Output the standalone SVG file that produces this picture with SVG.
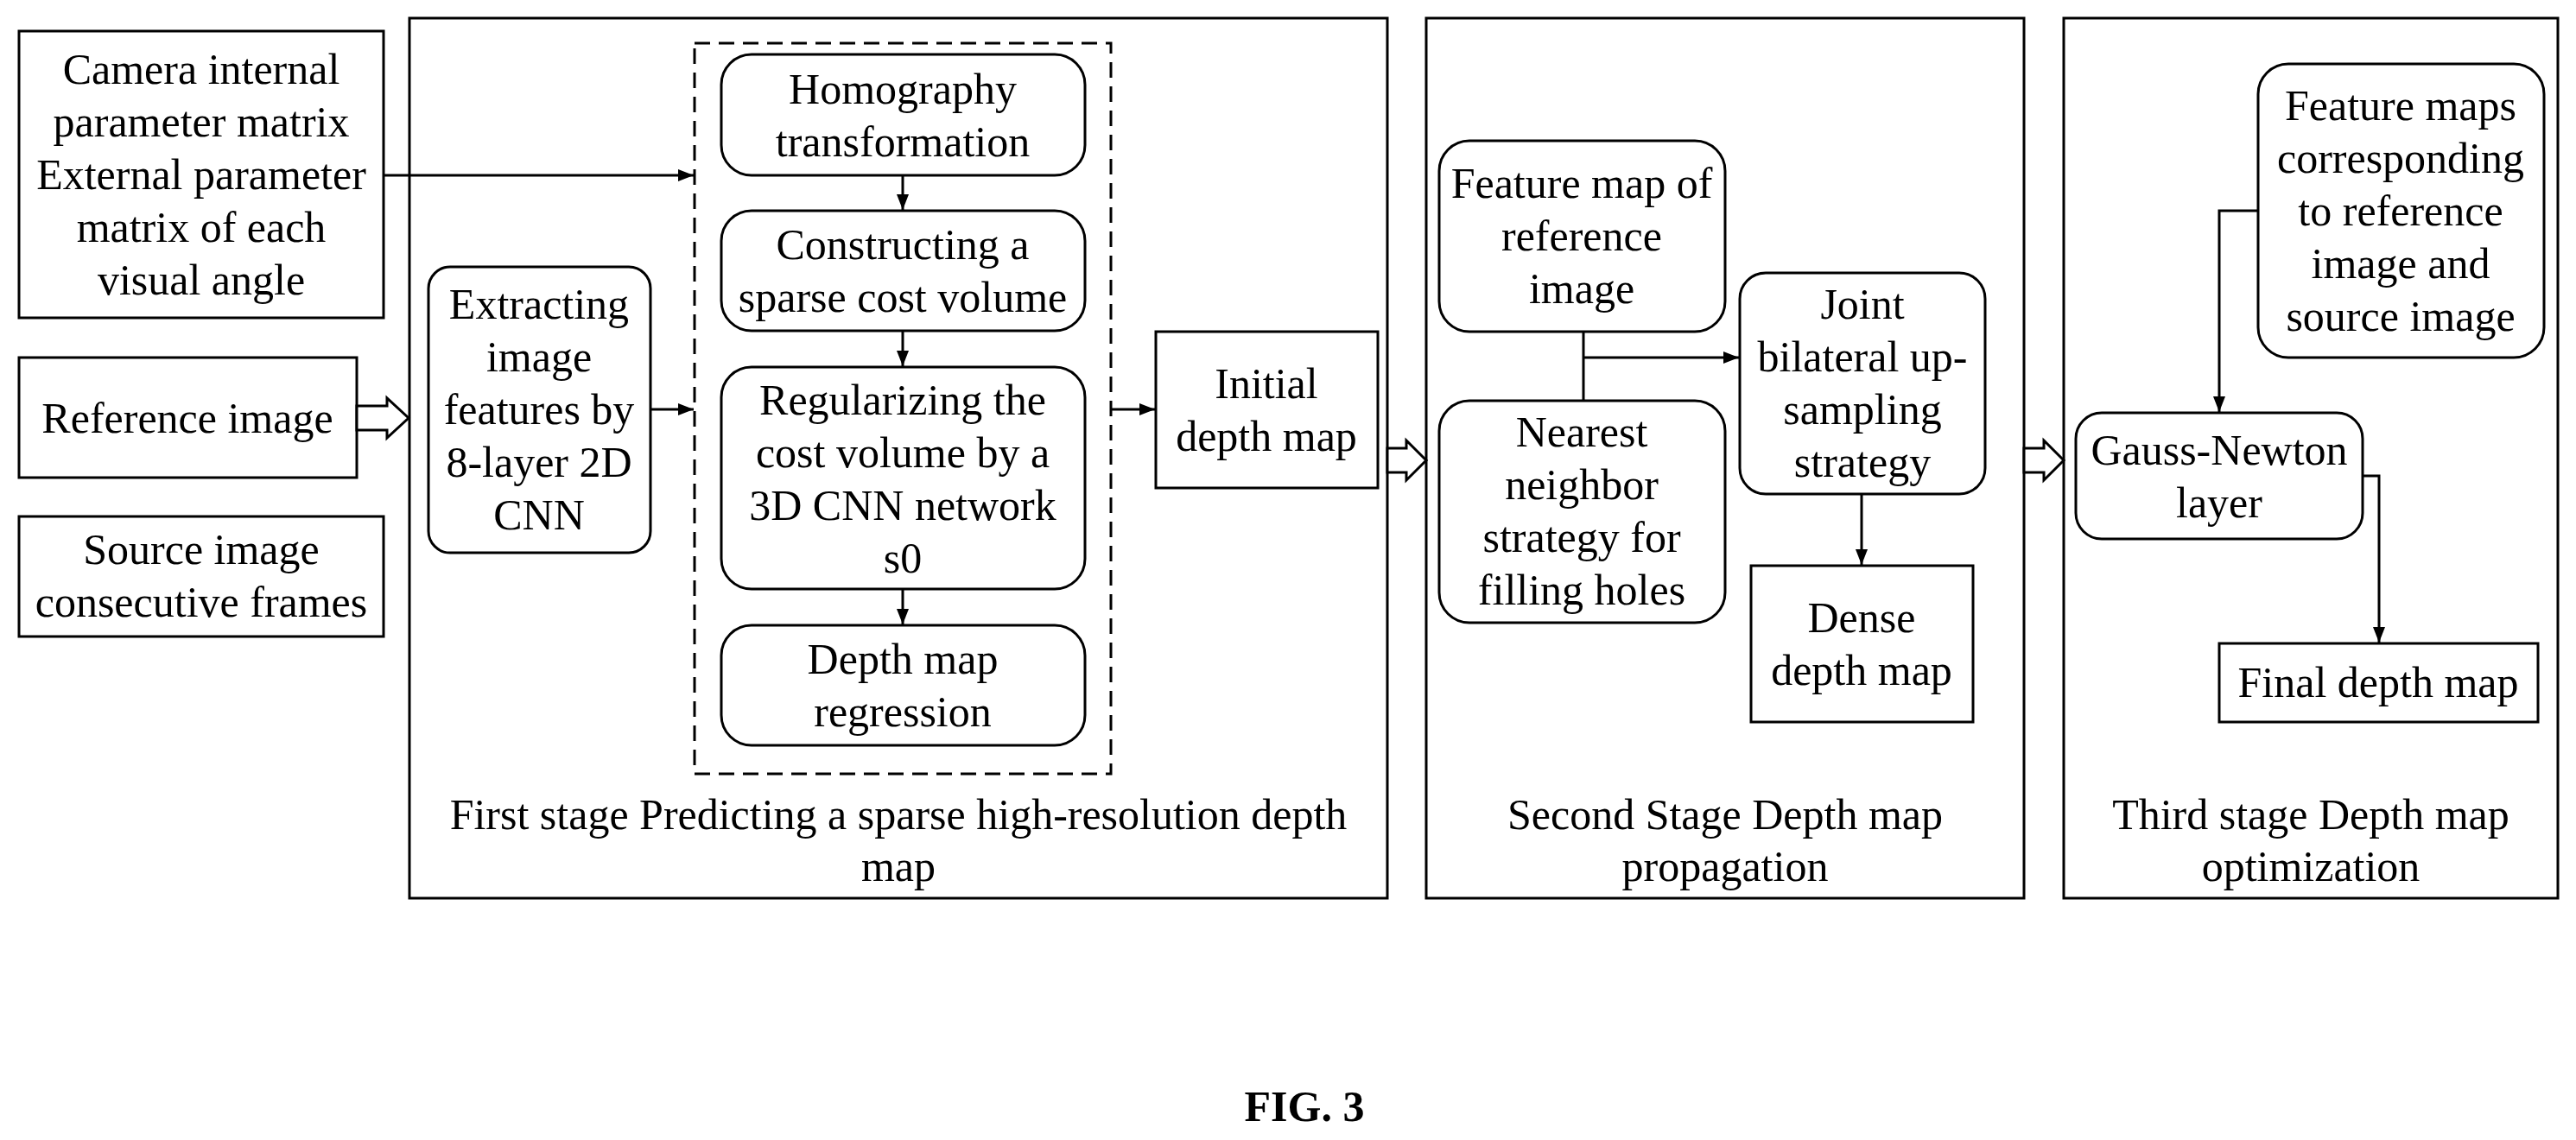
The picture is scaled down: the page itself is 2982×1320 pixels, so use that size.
<svg xmlns="http://www.w3.org/2000/svg" width="2982" height="1320" viewBox="0 0 2982 1320">
<style>
rect{fill:#fff;stroke:#000;stroke-width:3}
.dash{fill:none;stroke-dasharray:18,10}
text{font-family:"Liberation Serif","Times New Roman",serif;font-size:50px;text-anchor:middle;fill:#000}
.c line,.c polyline{stroke:#000;stroke-width:3;fill:none}
.h{fill:#fff;stroke:#000;stroke-width:3}
</style>
<defs><marker id="a" markerWidth="18" markerHeight="14" refX="18" refY="7" orient="auto" markerUnits="userSpaceOnUse" viewBox="0 0 18 14"><path d="M0,0L18,7L0,14z" fill="#000"/></marker></defs>
<rect width="2982" height="1320" style="stroke:none"/>
<g id="stage1"><rect x="474" y="21" width="1132" height="1019"/><text x="1040"><tspan x="1040" y="960">First stage Predicting a sparse high-resolution depth</tspan><tspan x="1040" y="1020">map</tspan></text></g>
<g id="stage2"><rect x="1651" y="21" width="692" height="1019"/><text><tspan x="1997" y="960">Second Stage Depth map</tspan><tspan x="1997" y="1020">propagation</tspan></text></g>
<g id="stage3"><rect x="2389" y="21" width="572" height="1019"/><text><tspan x="2675" y="960">Third stage Depth map</tspan><tspan x="2675" y="1020">optimization</tspan></text></g>
<g id="dashed"><rect class="dash" x="804" y="50" width="482" height="846"/></g>
<g id="camera"><rect x="22" y="36" width="422" height="332"/><text><tspan x="233" y="97">Camera internal</tspan><tspan x="233" y="158">parameter matrix</tspan><tspan x="233" y="219">External parameter</tspan><tspan x="233" y="280">matrix of each</tspan><tspan x="233" y="341">visual angle</tspan></text></g>
<g id="refimg"><rect x="22" y="414" width="391" height="139"/><text x="217" y="501">Reference image</text></g>
<g id="source"><rect x="22" y="598" width="422" height="139"/><text><tspan x="233" y="653">Source image</tspan><tspan x="233" y="714">consecutive frames</tspan></text></g>
<g id="extract"><rect x="496" y="309" width="257" height="331" rx="25"/><text><tspan x="624" y="369">Extracting</tspan><tspan x="624" y="430">image</tspan><tspan x="624" y="491">features by</tspan><tspan x="624" y="552">8-layer 2D</tspan><tspan x="624" y="613">CNN</tspan></text></g>
<g id="homo"><rect x="835" y="63" width="421" height="140" rx="35"/><text><tspan x="1045" y="120">Homography</tspan><tspan x="1045" y="181">transformation</tspan></text></g>
<g id="construct"><rect x="835" y="244" width="421" height="139" rx="35"/><text><tspan x="1045" y="300">Constructing a</tspan><tspan x="1045" y="361">sparse cost volume</tspan></text></g>
<g id="regular"><rect x="835" y="425" width="421" height="257" rx="35"/><text><tspan x="1045" y="480">Regularizing the</tspan><tspan x="1045" y="541">cost volume by a</tspan><tspan x="1045" y="602">3D CNN network</tspan><tspan x="1045" y="663">s0</tspan></text></g>
<g id="depthreg"><rect x="835" y="724" width="421" height="139" rx="35"/><text><tspan x="1045" y="780">Depth map</tspan><tspan x="1045" y="841">regression</tspan></text></g>
<g id="initial"><rect x="1338" y="384" width="257" height="181"/><text><tspan x="1466" y="461">Initial</tspan><tspan x="1466" y="522">depth map</tspan></text></g>
<g id="featref"><rect x="1666" y="163" width="331" height="221" rx="35"/><text><tspan x="1831" y="229">Feature map of</tspan><tspan x="1831" y="290">reference</tspan><tspan x="1831" y="351">image</tspan></text></g>
<g id="nearest"><rect x="1666" y="464" width="331" height="257" rx="35"/><text><tspan x="1831" y="517">Nearest</tspan><tspan x="1831" y="578">neighbor</tspan><tspan x="1831" y="639">strategy for</tspan><tspan x="1831" y="700">filling holes</tspan></text></g>
<g id="joint"><rect x="2014" y="316" width="284" height="256" rx="30"/><text><tspan x="2156" y="369">Joint</tspan><tspan x="2156" y="430">bilateral up-</tspan><tspan x="2156" y="491">sampling</tspan><tspan x="2156" y="552">strategy</tspan></text></g>
<g id="dense"><rect x="2027" y="655" width="257" height="181"/><text><tspan x="2155" y="732">Dense</tspan><tspan x="2155" y="793">depth map</tspan></text></g>
<g id="featmaps"><rect x="2614" y="74" width="331" height="340" rx="35"/><text><tspan x="2779" y="139">Feature maps</tspan><tspan x="2779" y="200">corresponding</tspan><tspan x="2779" y="261">to reference</tspan><tspan x="2779" y="322">image and</tspan><tspan x="2779" y="383">source image</tspan></text></g>
<g id="gauss"><rect x="2403" y="478" width="332" height="146" rx="30"/><text><tspan x="2569" y="538">Gauss-Newton</tspan><tspan x="2569" y="599">layer</tspan></text></g>
<g id="final"><rect x="2569" y="745" width="369" height="91"/><text x="2753" y="807">Final depth map</text></g>
<g id="connectors" class="c">
<line x1="444" y1="203" x2="803" y2="203" marker-end="url(#a)"/>
<line x1="753" y1="474" x2="803" y2="474" marker-end="url(#a)"/>
<line x1="1286" y1="474" x2="1337" y2="474" marker-end="url(#a)"/>
<line x1="1045" y1="203" x2="1045" y2="243" marker-end="url(#a)"/>
<line x1="1045" y1="383" x2="1045" y2="424" marker-end="url(#a)"/>
<line x1="1045" y1="682" x2="1045" y2="723" marker-end="url(#a)"/>
<line x1="1833" y1="384" x2="1833" y2="464"/>
<line x1="1833" y1="414" x2="2013" y2="414" marker-end="url(#a)"/>
<line x1="2155" y1="572" x2="2155" y2="654" marker-end="url(#a)"/>
<polyline points="2614,244 2569,244 2569,477" marker-end="url(#a)"/>
<polyline points="2735,551 2754,551 2754,744" marker-end="url(#a)"/>
<polygon class="h" points="413,470 448,470 448,461 473,484 448,507 448,498 413,498"/>
<polygon class="h" points="1606,519 1628,519 1628,510 1651,533 1628,556 1628,547 1606,547"/>
<polygon class="h" points="2343,519 2366,519 2366,510 2389,533 2366,556 2366,547 2343,547"/>
</g>
<text x="1510" y="1298" style="font-weight:bold">FIG. 3</text>
</svg>
